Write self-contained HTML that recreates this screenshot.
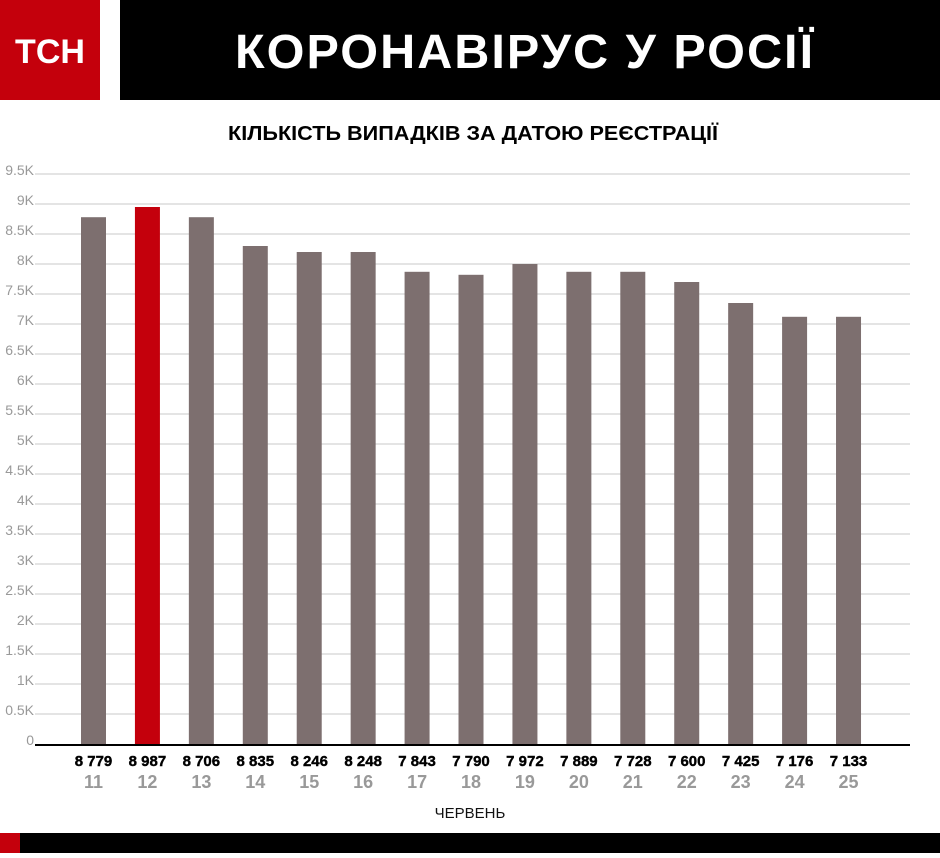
<!DOCTYPE html>
<html><head><meta charset="utf-8"><style>
body{margin:0;width:940px;height:853px;background:#fff;overflow:hidden;font-family:"Liberation Sans",sans-serif}
</style></head><body>
<svg width="940" height="853" viewBox="0 0 940 853" xmlns="http://www.w3.org/2000/svg">
<rect x="0" y="0" width="100" height="100" fill="#c4000c"/>
<text x="50" y="63" text-anchor="middle" font-size="34" font-weight="bold" fill="#fff">ТСН</text>
<rect x="120" y="0" width="820" height="100" fill="#000"/>
<text x="525" y="68" text-anchor="middle" font-size="48" font-weight="bold" letter-spacing="2" textLength="580" lengthAdjust="spacingAndGlyphs" fill="#fff">КОРОНАВІРУС У РОСІЇ</text>
<text x="473" y="140" text-anchor="middle" font-size="20" font-weight="bold" textLength="490" lengthAdjust="spacingAndGlyphs" fill="#000">КІЛЬКІСТЬ ВИПАДКІВ ЗА ДАТОЮ РЕЄСТРАЦІЇ</text>
<g id="grid"></g><g id="bars"></g>
<line x1="35" y1="745" x2="910" y2="745" stroke="#000" stroke-width="2"/>
<text x="470" y="818" text-anchor="middle" font-size="15" fill="#111">ЧЕРВЕНЬ</text>
<rect x="0" y="833" width="20" height="20" fill="#c4000c"/>
<rect x="20" y="833" width="920" height="20" fill="#000"/>
</svg>
<script>
const categories=["11","12","13","14","15","16","17","18","19","20","21","22","23","24","25"];
const barValues=[8780,8950,8780,8300,8200,8200,7870,7820,8000,7870,7870,7700,7350,7120,7120];
const valueLabels=["8 779","8 987","8 706","8 835","8 246","8 248","7 843","7 790","7 972","7 889","7 728","7 600","7 425","7 176","7 133"];
const yTicks=[0,500,1000,1500,2000,2500,3000,3500,4000,4500,5000,5500,6000,6500,7000,7500,8000,8500,9000,9500];
const yTickLabels=["0","0.5K","1K","1.5K","2K","2.5K","3K","3.5K","4K","4.5K","5K","5.5K","6K","6.5K","7K","7.5K","8K","8.5K","9K","9.5K"];
const highlight="12";
const NS="http://www.w3.org/2000/svg";
function y(v){return 744-v*0.06;}
function x(i){return 81+i*53.93;}
const g=document.getElementById('grid'),b=document.getElementById('bars');
yTicks.forEach((t,i)=>{
 if(t>0){const l=document.createElementNS(NS,'line');
 l.setAttribute('x1',35);l.setAttribute('x2',910);l.setAttribute('y1',y(t));l.setAttribute('y2',y(t));
 l.setAttribute('stroke','#c8c8c8');l.setAttribute('stroke-width','1');
 
 
 g.appendChild(l);}
 const tx=document.createElementNS(NS,'text');
 tx.setAttribute('x',34);tx.setAttribute('y',y(t)+1);tx.setAttribute('text-anchor','end');
 tx.setAttribute('font-size','14');tx.setAttribute('fill','#999');tx.textContent=yTickLabels[i];
 
 
 g.appendChild(tx);
});
categories.forEach((c,i)=>{
 const r=document.createElementNS(NS,'rect');
 r.setAttribute('x',x(i));r.setAttribute('width',25);r.setAttribute('y',y(barValues[i]));
 r.setAttribute('height',744-y(barValues[i]));r.setAttribute('fill',c===highlight?'#c4000c':'#7d6f6f');
 
 
 b.appendChild(r);
 const v=document.createElementNS(NS,'text');
 v.setAttribute('x',x(i)+12.5);v.setAttribute('y',766);v.setAttribute('text-anchor','middle');
 v.setAttribute('font-size','15');v.setAttribute('font-weight','bold');v.setAttribute('fill','#000');
 v.setAttribute('stroke','#000');v.setAttribute('stroke-width','0.4');v.textContent=valueLabels[i];
 
 
 b.appendChild(v);
 const d=document.createElementNS(NS,'text');
 d.setAttribute('x',x(i)+12.5);d.setAttribute('y',788);d.setAttribute('text-anchor','middle');
 d.setAttribute('font-size','18');d.setAttribute('font-weight','bold');d.setAttribute('fill','#999');d.textContent=c;
 
 
 b.appendChild(d);
});
</script>
</body></html>
